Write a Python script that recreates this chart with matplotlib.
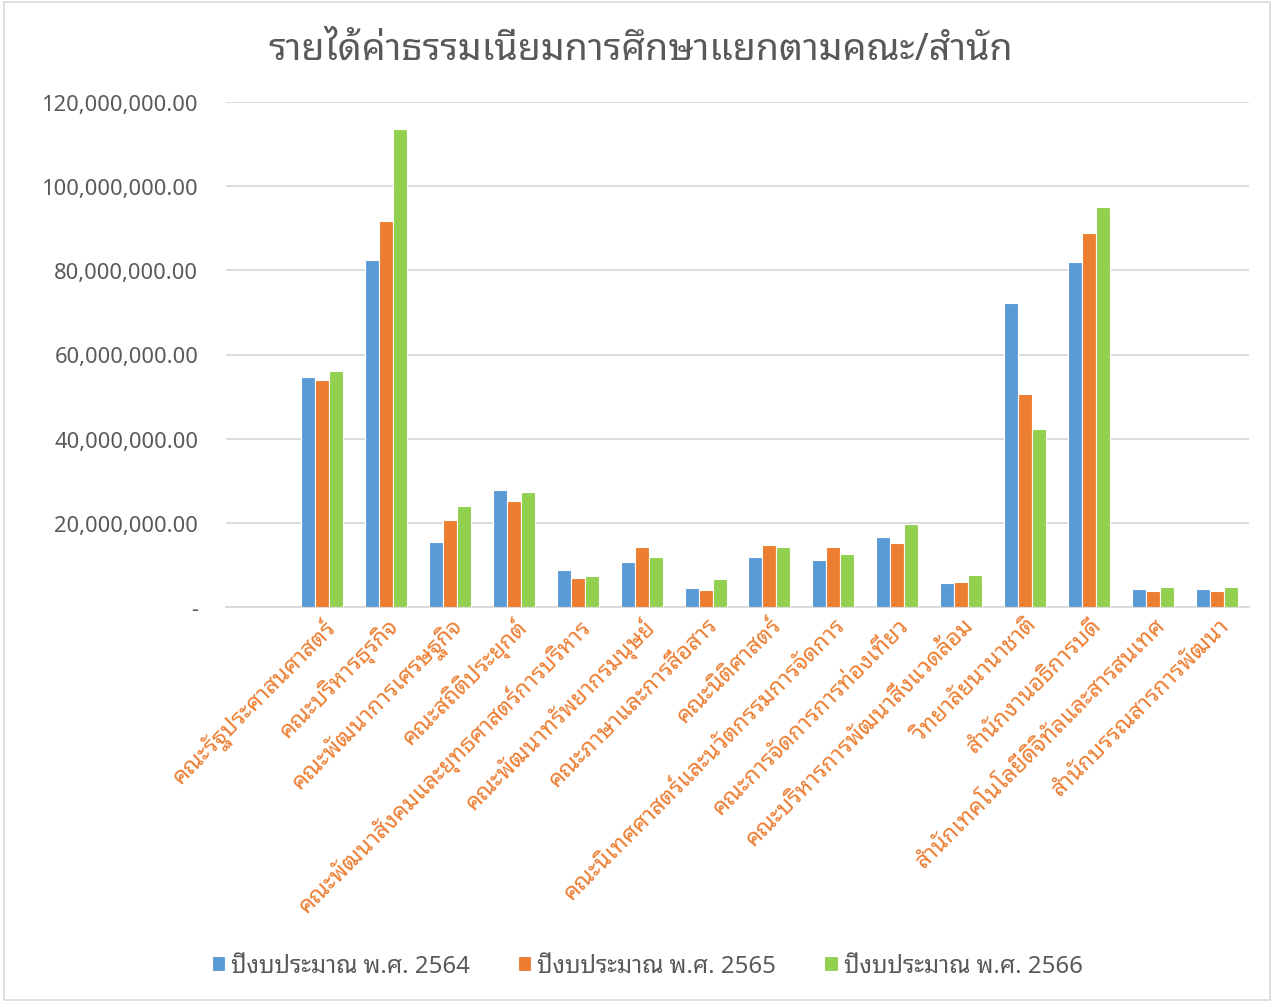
#!/usr/bin/env python3
import numpy as np
import matplotlib
matplotlib.use('Agg')
import matplotlib.pyplot as plt
from matplotlib import font_manager
from matplotlib.ft2font import FT2Font
from matplotlib.ticker import FuncFormatter
from matplotlib.patches import Rectangle

# --- data (baht)
categories = [
    'คณะรัฐประศาสนศาสตร์', 'คณะบริหารธุรกิจ', 'คณะพัฒนาการเศรษฐกิจ',
    'คณะสถิติประยุกต์', 'คณะพัฒนาสังคมและยุทธศาสตร์การบริหาร',
    'คณะพัฒนาทรัพยากรมนุษย์', 'คณะภาษาและการสื่อสาร', 'คณะนิติศาสตร์',
    'คณะนิเทศศาสตร์และนวัตกรรมการจัดการ', 'คณะการจัดการการท่องเที่ยว',
    'คณะบริหารการพัฒนาสิ่งแวดล้อม', 'วิทยาลัยนานาชาติ', 'สำนักงานอธิการบดี',
    'สำนักเทคโนโลยีดิจิทัลและสารสนเทศ', 'สำนักบรรณสารการพัฒนา',
]
series_names = ['ปีงบประมาณ พ.ศ. 2564', 'ปีงบประมาณ พ.ศ. 2565', 'ปีงบประมาณ พ.ศ. 2566']
y2564 = [54.7e6, 82.5e6, 15.4e6, 27.8e6, 8.8e6, 10.7e6, 4.5e6, 11.9e6, 11.2e6, 16.6e6, 5.7e6, 72.2e6, 82.0e6, 4.3e6, 4.3e6]
y2565 = [53.9e6, 91.7e6, 20.7e6, 25.2e6, 6.9e6, 14.3e6, 4.0e6, 14.7e6, 14.3e6, 15.2e6, 5.9e6, 50.6e6, 88.9e6, 3.8e6, 3.8e6]
y2566 = [56.1e6, 113.6e6, 24.0e6, 27.3e6, 7.4e6, 11.9e6, 6.7e6, 14.3e6, 12.6e6, 19.7e6, 7.6e6, 42.3e6, 95.1e6, 4.8e6, 4.8e6]
colors = ['#5B9BD5', '#ED7D31', '#92D050']

# --- pick a font that has Thai glyphs
def find_thai_font():
    prefer = ['Noto Sans Thai', 'Tahoma', 'Loma', 'Garuda', 'Sarabun', 'Leelawadee']
    found = []
    for f in font_manager.fontManager.ttflist:
        try:
            cmap = FT2Font(f.fname).get_charmap()
        except Exception:
            continue
        if 0x0E01 in cmap and 0x0E33 in cmap:
            found.append(f.name)
    for p in prefer:
        for n in found:
            if p.lower() in n.lower():
                return n
    return found[0] if found else None

thai = find_thai_font()
fams = ([thai] if thai else []) + ['DejaVu Sans']
plt.rcParams['font.family'] = fams

TXT = '#595959'
fig = plt.figure(figsize=(12.74, 10.04), dpi=100)
ax = fig.add_axes([226/1274, 1-608/1004, (1249-226)/1274, (608-103)/1004])

x = np.arange(len(categories))
w = 0.219
for i, (vals, c, name) in enumerate(zip([y2564, y2565, y2566], colors, series_names)):
    ax.bar(x + (i-1)*w, vals, width=w, color=c, edgecolor='white', linewidth=0.8, label=name, zorder=3)

ax.set_ylim(0, 120e6)
ax.set_xlim(-1.5, 14.5)
ax.set_yticks(np.arange(0, 120e6+1, 20e6))
ax.yaxis.set_major_formatter(FuncFormatter(lambda v, p: '-' if v == 0 else f'{v:,.2f}'))
ax.grid(axis='y', color='#D9D9D9', linewidth=1.3, zorder=0)
for s in ['top', 'right', 'left']:
    ax.spines[s].set_visible(False)
ax.spines['bottom'].set_color('#D9D9D9')
ax.spines['bottom'].set_linewidth(1.3)
ax.tick_params(axis='y', length=0, labelsize=15.8, labelcolor=TXT, pad=20)
ax.tick_params(axis='x', length=0, pad=4)
ax.set_xticks(x)
ax.set_xticklabels(categories, rotation=45, ha='right', rotation_mode='anchor',
                   fontsize=16.8, color='#ED7D31')

fig.text(0.503, 1-50/1004, 'รายได้ค่าธรรมเนียมการศึกษาแยกตามคณะ/สำนัก', ha='center', va='center',
         fontsize=27, color=TXT, fontweight='medium')

leg = fig.legend(loc='center', bbox_to_anchor=(0.508, 1-967/1004), ncol=3, frameon=False,
                 fontsize=17.3, labelcolor=TXT, handlelength=0.55, handleheight=0.55,
                 handletextpad=0.25, columnspacing=2.0)

fig.patches.append(Rectangle((0.003, 0.003), 0.994, 0.994, transform=fig.transFigure,
                             fill=False, edgecolor='#D9D9D9', linewidth=1.2))

fig.savefig('out.png', dpi=100)
